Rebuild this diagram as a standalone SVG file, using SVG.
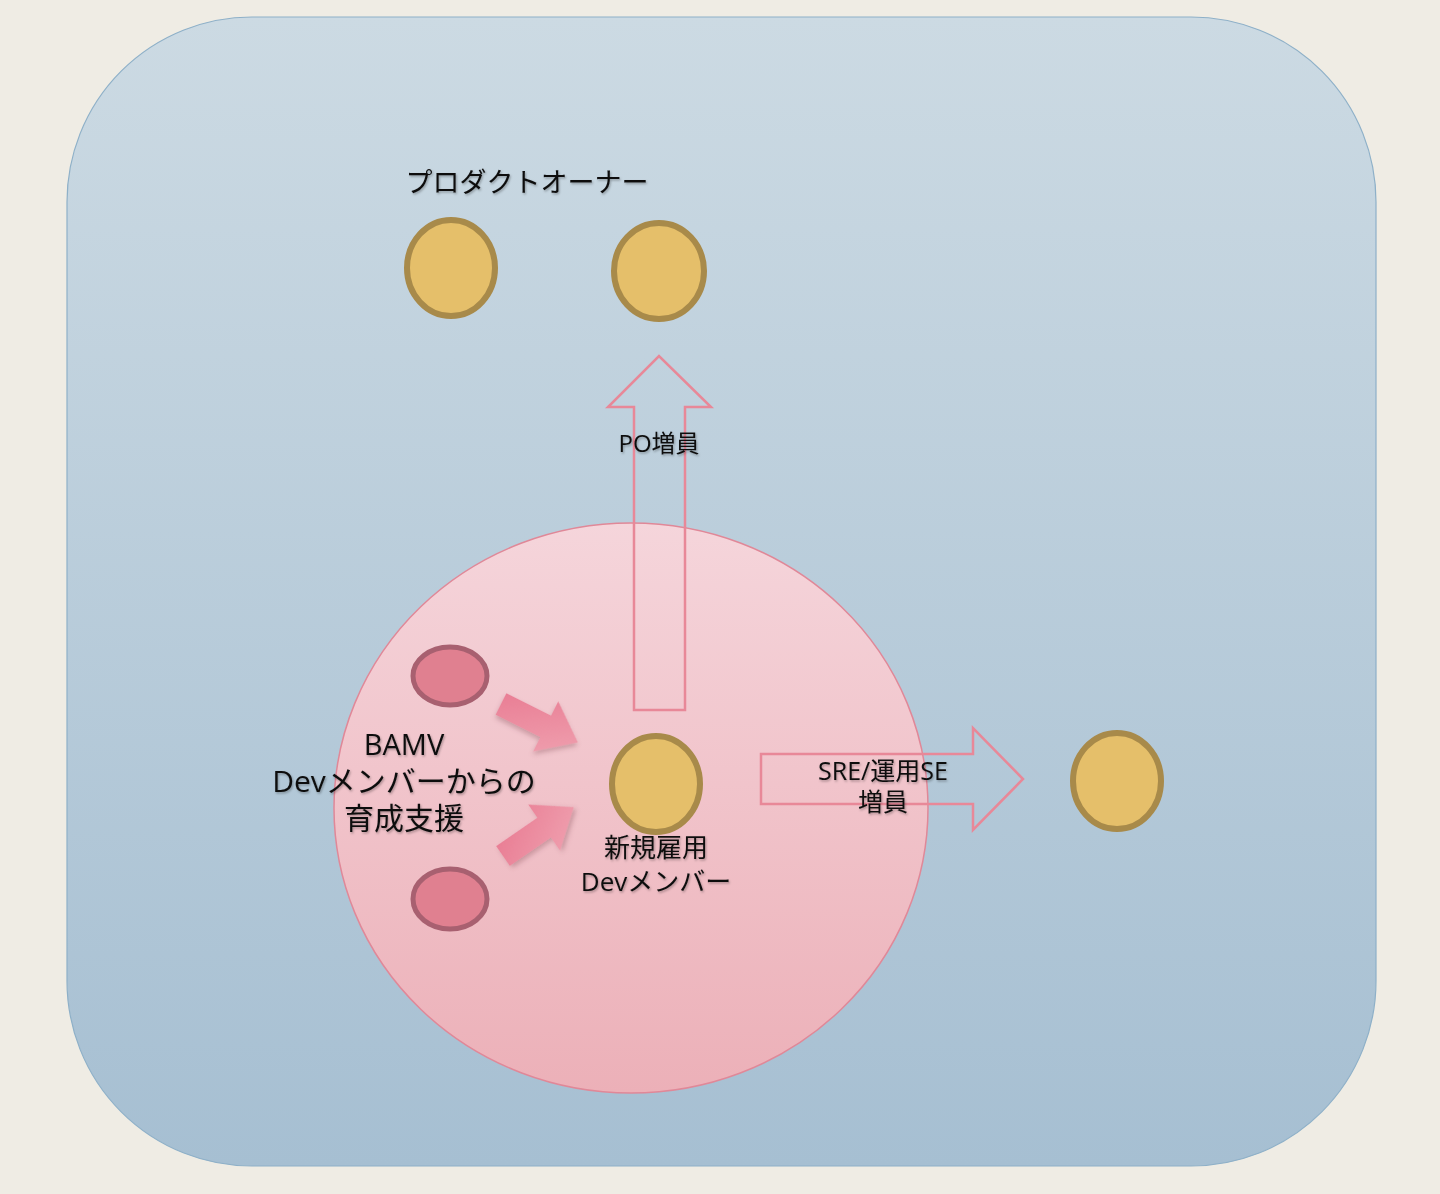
<svg xmlns="http://www.w3.org/2000/svg" width="1440" height="1194" viewBox="0 0 1440 1194">
<style>
.t{font-family:"Open Sans","Noto Sans CJK JP",sans-serif;fill:#111;text-anchor:middle;filter:url(#ts)}
.gold{fill:#E5BF6A;stroke:#A88A4A;stroke-width:6}
.rose{fill:#E08090;stroke:#A86070;stroke-width:5}
.outline{fill:none;stroke:#E88898;stroke-width:2.5;stroke-linejoin:miter}
</style>
<defs>
<linearGradient id="bg" x1="0" y1="0" x2="0" y2="1"><stop offset="0" stop-color="#CCDAE3"/><stop offset="1" stop-color="#A6BFD2"/></linearGradient>
<linearGradient id="pk" x1="0" y1="0" x2="0" y2="1"><stop offset="0" stop-color="#F5D5DB"/><stop offset="1" stop-color="#ECB0B8"/></linearGradient>
<linearGradient id="ar" x1="0" y1="0" x2="1" y2="1"><stop offset="0" stop-color="#E87890"/><stop offset="1" stop-color="#F0A4B2"/></linearGradient>
<filter id="ts" x="-10%" y="-20%" width="120%" height="150%"><feDropShadow dx="1" dy="1.5" stdDeviation="1.2" flood-color="#000" flood-opacity="0.3"/></filter>
<filter id="as" x="-20%" y="-20%" width="140%" height="150%"><feDropShadow dx="1" dy="3" stdDeviation="2.5" flood-color="#804050" flood-opacity="0.35"/></filter>
<polygon id="fat" points="0,-12 50,-12 50,-28 86,0 50,28 50,12 0,12"/>
</defs>
<rect width="1440" height="1194" fill="#EFECE4"/>
<rect id="frame" x="67" y="17" width="1309" height="1149" rx="185" ry="185" fill="url(#bg)" stroke="#8EB0C8" stroke-width="1.2"/>
<g id="team-circle"><ellipse cx="631" cy="808" rx="297" ry="285" fill="url(#pk)" stroke="#E08898" stroke-width="1.5"/></g>
<g id="connectors">
<polygon id="po-arrow" class="outline" points="634,710 634,407 608,407 659,356 711,407 685,407 685,710"/>
<polygon id="sre-arrow" class="outline" points="761,754 973,754 973,728 1023,779 973,830 973,804 761,804"/>
<use href="#fat" fill="url(#ar)" filter="url(#as)" transform="translate(501,704) rotate(26.6)"/>
<use href="#fat" fill="url(#ar)" filter="url(#as)" transform="translate(503,856) rotate(-34.6)"/>
</g>
<g id="po-label"><text class="t" x="527" y="192" font-size="27">プロダクトオーナー</text></g>
<g id="po1"><ellipse class="gold" cx="451" cy="268" rx="44" ry="48"/></g>
<g id="po2"><ellipse class="gold" cx="659" cy="271" rx="45" ry="48"/></g>
<g id="po-arrow-label"><text class="t" x="659" y="452" font-size="24">PO増員</text></g>
<g id="bamv1"><ellipse class="rose" cx="450" cy="676" rx="37" ry="29"/></g>
<g id="bamv2"><ellipse class="rose" cx="450" cy="899" rx="37" ry="30"/></g>
<g id="bamv-label">
<text class="t" x="404" y="755" font-size="29">BAMV</text>
<text class="t" x="404" y="792" font-size="30">Devメンバーからの</text>
<text class="t" x="404" y="829" font-size="30">育成支援</text>
</g>
<g id="new-dev"><ellipse class="gold" cx="656" cy="784" rx="44" ry="48"/>
<text class="t" x="656" y="857" font-size="26">新規雇用</text>
<text class="t" x="656" y="891" font-size="26">Devメンバー</text>
</g>
<g id="sre-label">
<text class="t" x="883" y="780" font-size="25">SRE/運用SE</text>
<text class="t" x="883" y="811" font-size="25">増員</text>
</g>
<g id="sre"><ellipse class="gold" cx="1117" cy="781" rx="44" ry="48"/></g>
</svg>
